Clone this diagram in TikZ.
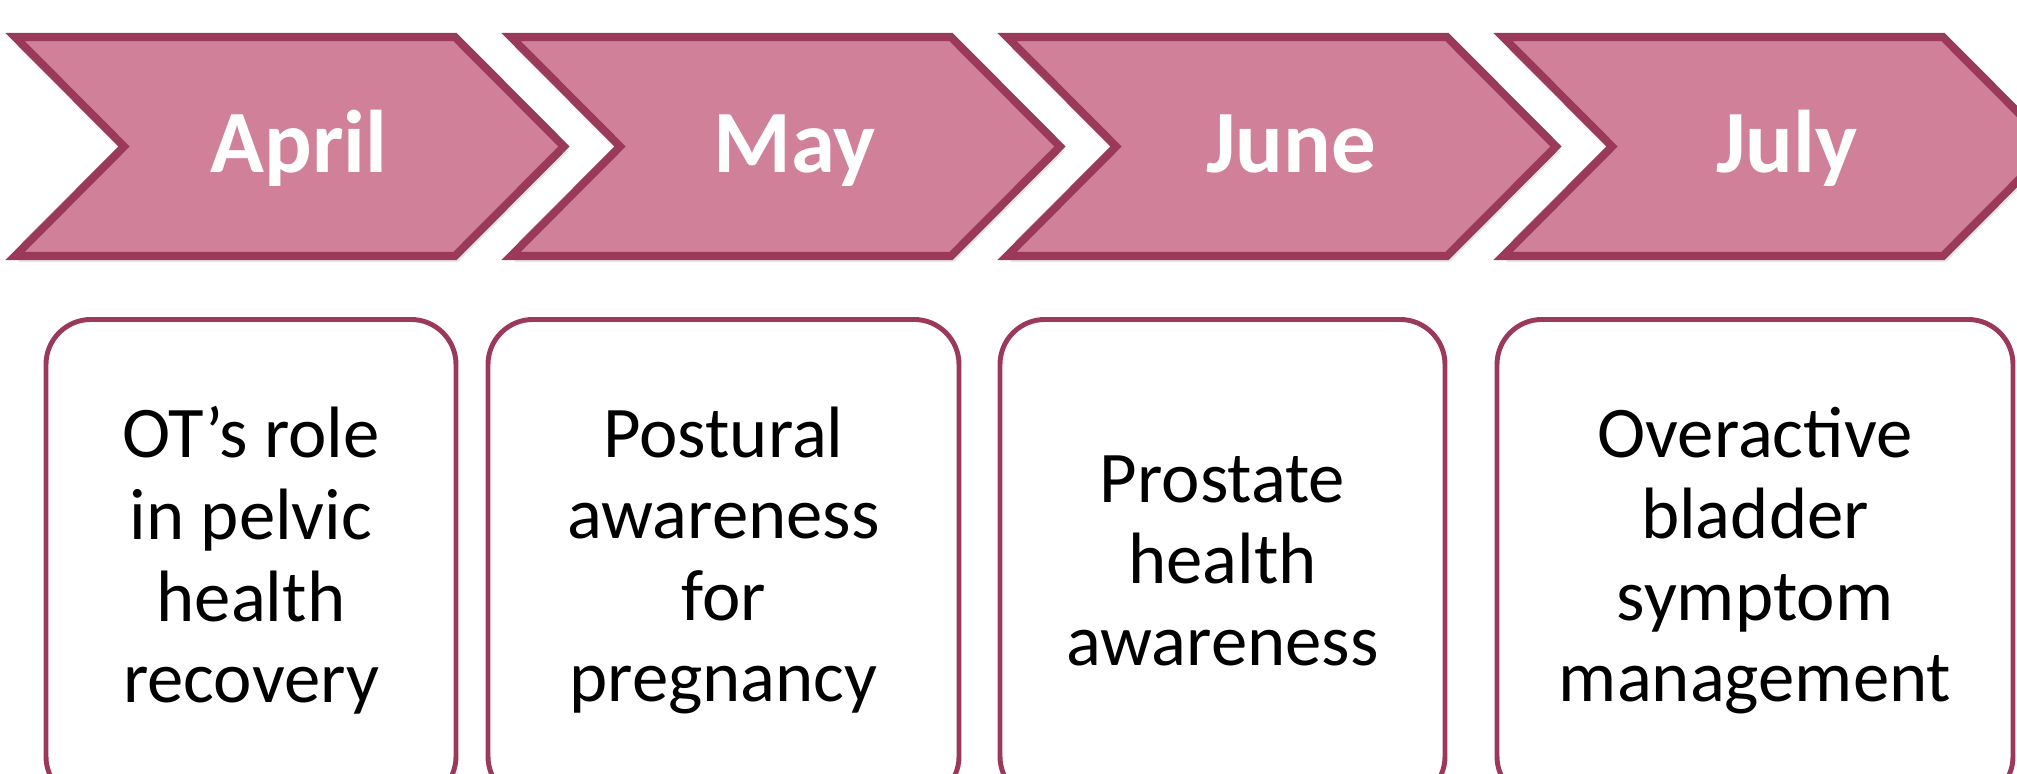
\documentclass[tikz,border=0pt]{standalone}
\usepackage{fontspec}
\setmainfont{Carlito}
\usetikzlibrary{positioning, shadows}
\definecolor{chevfill}{RGB}{208, 128, 152}
\definecolor{chevline}{RGB}{155, 57, 90}

\begin{document}
\begin{tikzpicture}[
    chev/.style={fill=chevfill, draw=chevline, line width=2.3pt,
                 line join=miter,
                 drop shadow={shadow xshift=0.3mm, shadow yshift=-0.6mm,
                              opacity=0.2}},
    month/.style={text=white, anchor=base, inner sep=0pt,
                  font=\fontsize{25.3}{30}\selectfont\bfseries},
    topic/.style={draw=chevline, line width=1.4pt, rounded corners=0.45cm,
                  align=center, anchor=north, minimum height=4.82cm,
                  inner sep=0pt, font=\fontsize{20.7}{23.2}\selectfont},
  ]
  \useasboundingbox (0,0) rectangle (20.17,-7.73);
  \clip (0,0) rectangle (20.17,-7.73);
  % month chevrons
  \foreach \m [count=\i from 0] in {April, May, June, July} {
    \pgfmathsetmacro\xl{0.15+4.96*\i}
    \draw[chev] (\xl,-0.37) -- ++(4.40,0) -- ++(1.09,-1.095)
      -- ++(-1.09,-1.095) -- ++(-4.40,0) -- ++(1.09,1.095) -- cycle;
    \node[month] (m\i) at (\xl+2.84,-1.72) {\m};
  }
  % topic boxes
  \node[topic, minimum width=4.10cm] (t0) at (2.51,-3.17)
    {OT’s role\\in pelvic\\health\\recovery};
  \node[topic, minimum width=4.71cm] (t1) at (7.235,-3.17)
    {Postural\\awareness\\for\\pregnancy};
  \node[topic, minimum width=4.45cm] (t2) at (12.225,-3.17)
    {Prostate\\health\\awareness};
  \node[topic, minimum width=5.16cm] (t3) at (17.55,-3.17)
    {Overactive\\bladder\\symptom\\management};
\end{tikzpicture}
\end{document}
